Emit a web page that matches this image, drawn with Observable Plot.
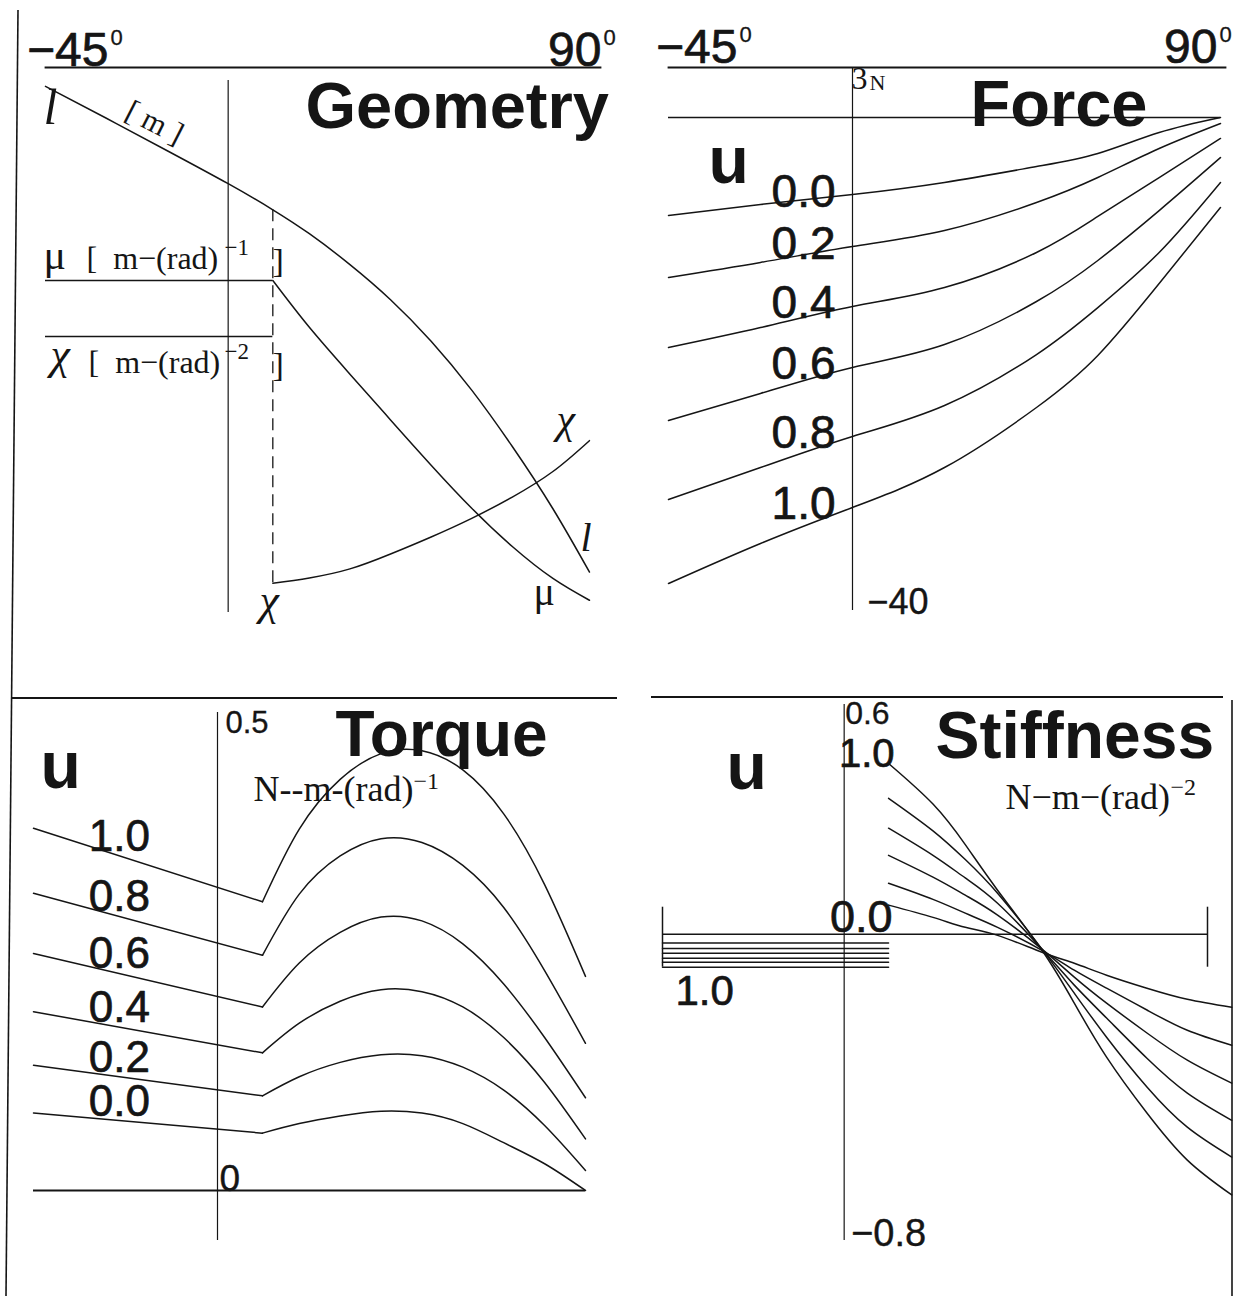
<!DOCTYPE html>
<html lang="en">
<head>
<meta charset="utf-8">
<title>Geometry, Force, Torque, Stiffness</title>
<script src="https://cdn.jsdelivr.net/npm/d3@7"></script>
<script src="https://cdn.jsdelivr.net/npm/@observablehq/plot@0.6"></script>
<style>
  html, body { margin: 0; padding: 0; background: #fff; }
  #sheet { position: relative; width: 1234px; height: 1296px; overflow: hidden; background: #fff; }
  #sheet svg { position: absolute; }
</style>
</head>
<body>
<div id="sheet"></div>
<script>
const INK = "#151515";
const LW = 1.5;
const SANS = "'Liberation Sans', Arial, Helvetica, sans-serif";
const SERIF = "'Liberation Serif', 'Times New Roman', serif";

// u levels shared by the force, torque and stiffness families
const uLevels = [0.0, 0.2, 0.4, 0.6, 0.8, 1.0];
// angle range of every panel, degrees
const angleEnds = [-45, 90];
// angle at which the cable starts to wrap
const contactAngle = 11;

// Geometry: length l and its derivatives mu, chi, each on its own unlabeled scale
const geoAngle = [-45, -30, -15, 0, 11, 20, 30, 40, 50, 60, 70, 80, 89];
const lengthL = [0.989, 0.929, 0.868, 0.806, 0.757, 0.712, 0.654, 0.588, 0.510, 0.418, 0.312, 0.195, 0.076];
const wrapAngle = [11, 20, 30, 40, 50, 60, 70, 80, 89];
const muWrap = [0.624, 0.536, 0.448, 0.362, 0.277, 0.196, 0.124, 0.064, 0.023];
const chiWrap = [0.055, 0.065, 0.082, 0.110, 0.142, 0.177, 0.217, 0.265, 0.323];
const muFree = 0.624;
const chiFree = 0.519;

// Force [N]
const forceAngle = [-45, -22.5, 0, 22.5, 45, 60, 75, 90];
const forceU00 = [-7.95, -7.06, -6.25, -5.27, -3.98, -2.92, -1.22, 0.0];
const forceU02 = [-12.98, -11.76, -10.47, -9.17, -6.90, -4.87, -2.52, -0.49];
const forceU04 = [-18.66, -17.04, -15.33, -13.79, -10.95, -8.03, -4.87, -1.70];
const forceU06 = [-24.58, -22.39, -20.28, -18.42, -14.93, -11.60, -7.55, -3.25];
const forceU08 = [-30.99, -28.40, -25.88, -23.37, -19.23, -15.42, -10.95, -5.27];
const forceU10 = [-37.81, -34.56, -31.64, -28.40, -23.53, -19.31, -13.47, -7.30];

// Torque [N-m-(rad)^-1]: straight before contact, curved after it
const torqueFreeAngle = [-45, 11];
const torqueFreeU00 = [0.081, 0.060];
const torqueFreeU02 = [0.131, 0.099];
const torqueFreeU04 = [0.187, 0.144];
const torqueFreeU06 = [0.248, 0.192];
const torqueFreeU08 = [0.311, 0.246];
const torqueFreeU10 = [0.379, 0.302];
const torqueWrapAngle = [11, 20, 30, 40, 50, 60, 70, 80, 90];
const torqueWrapU00 = [0.060, 0.070, 0.078, 0.083, 0.081, 0.070, 0.050, 0.028, 0.000];
const torqueWrapU02 = [0.099, 0.119, 0.134, 0.142, 0.141, 0.129, 0.105, 0.068, 0.021];
const torqueWrapU04 = [0.144, 0.175, 0.198, 0.210, 0.208, 0.192, 0.160, 0.113, 0.054];
const torqueWrapU06 = [0.192, 0.238, 0.270, 0.286, 0.282, 0.258, 0.216, 0.160, 0.097];
const torqueWrapU08 = [0.246, 0.310, 0.350, 0.368, 0.364, 0.340, 0.296, 0.230, 0.154];
const torqueWrapU10 = [0.302, 0.378, 0.430, 0.457, 0.460, 0.440, 0.394, 0.320, 0.224];

// Stiffness [N-m-(rad)^-2]: constant before contact, jumps at contact
const stiffFreeAngle = [-45, 11];
const stiffFree = [-0.023, -0.037, -0.050, -0.063, -0.073, -0.086];
const stiffWrapAngle = [11, 22, 30, 38, 49, 57, 65, 75, 85, 96];
const stiffWrapU00 = [0.076, 0.044, 0.018, -0.003, -0.047, -0.076, -0.107, -0.141, -0.170, -0.191];
const stiffWrapU02 = [0.133, 0.091, 0.055, 0.018, -0.042, -0.094, -0.141, -0.198, -0.251, -0.290];
const stiffWrapU04 = [0.206, 0.149, 0.102, 0.050, -0.039, -0.112, -0.180, -0.258, -0.329, -0.389];
const stiffWrapU06 = [0.277, 0.206, 0.147, 0.081, -0.039, -0.133, -0.219, -0.324, -0.415, -0.486];
const stiffWrapU08 = [0.355, 0.270, 0.195, 0.107, -0.039, -0.154, -0.269, -0.399, -0.504, -0.582];
const stiffWrapU10 = [0.446, 0.340, 0.234, 0.115, -0.042, -0.180, -0.321, -0.467, -0.590, -0.681];

// ---------- tables ----------
const rowsOf = (angles, series) =>
  uLevels.flatMap((u, i) => angles.map((angle, j) => ({u, angle, value: series[i][j]})));

const lengthRows = geoAngle.map((angle, i) => ({angle, value: lengthL[i]}));
const muRows = wrapAngle.map((angle, i) => ({angle, value: muWrap[i]}));
const chiRows = wrapAngle.map((angle, i) => ({angle, value: chiWrap[i]}));

const forceRows = rowsOf(forceAngle, [forceU00, forceU02, forceU04, forceU06, forceU08, forceU10]);
const torqueFree = [torqueFreeU00, torqueFreeU02, torqueFreeU04, torqueFreeU06, torqueFreeU08, torqueFreeU10];
const torqueFreeRows = rowsOf(torqueFreeAngle, torqueFree);
const torqueWrapRows = rowsOf(torqueWrapAngle, [torqueWrapU00, torqueWrapU02, torqueWrapU04, torqueWrapU06, torqueWrapU08, torqueWrapU10]);
const stiffFreeRows = rowsOf(stiffFreeAngle, stiffFree.map((v) => [v, v]));
const stiffWrapRows = rowsOf(stiffWrapAngle, [stiffWrapU00, stiffWrapU02, stiffWrapU04, stiffWrapU06, stiffWrapU08, stiffWrapU10]);

// ---------- helpers ----------
const sheet = document.getElementById("sheet");
const fmtSigned = (d) => (d < 0 ? "\u2212" + Math.abs(d) : String(d));
const uText = (d) => d.u.toFixed(1);
const txt = {fill: INK, fontFamily: SANS, lineAnchor: "bottom"};
// printed numerals are set a little heavier than the regular face
const heavy = {stroke: INK, strokeWidth: 0.7};
const greek = {fontFamily: SERIF, fontStyle: "italic"};

// text pinned to a pixel position inside a panel
const noteIn = (m) => (px, py, text, o = {}) =>
  Plot.text([text], {frameAnchor: "top-left", dx: px - m.left, dy: py - m.top, text: (d) => d,
    textAnchor: "start", ...txt, ...o});

function curves(rows, curve) {
  return Plot.line(rows, {x: "angle", y: "value", z: "u", curve, stroke: INK, strokeWidth: LW});
}

function angleLabels(leftDx, rightDx, dy) {
  const base = {x: (d) => d, frameAnchor: "top", ...txt, ...heavy};
  return [
    Plot.text([angleEnds[0]], {...base, text: fmtSigned, textAnchor: "end", dx: leftDx, dy, fontSize: 48}),
    Plot.text([angleEnds[0]], {...base, text: () => "0", textAnchor: "start", dx: leftDx + 2, dy: dy - 21, fontSize: 22, strokeWidth: 0.3}),
    Plot.text([angleEnds[1]], {...base, text: fmtSigned, textAnchor: "end", dx: rightDx, dy, fontSize: 48}),
    Plot.text([angleEnds[1]], {...base, text: () => "0", textAnchor: "start", dx: rightDx + 2, dy: dy - 21, fontSize: 22, strokeWidth: 0.3})
  ];
}

function panel(pos, opts) {
  const svg = Plot.plot({
    width: pos.width, height: pos.height,
    marginTop: pos.m.top, marginRight: pos.m.right, marginBottom: pos.m.bottom, marginLeft: pos.m.left,
    x: {domain: angleEnds, range: opts.xRange, axis: null},
    y: {domain: opts.yDomain, range: opts.yRange, axis: null},
    style: {background: "none", overflow: "visible"},
    marks: opts.marks
  });
  svg.style.left = pos.left + "px";
  svg.style.top = pos.top + "px";
  sheet.append(svg);
}

// ---------- Geometry ----------
{
  const m = {top: 67, left: 45, right: 17, bottom: 38};
  const note = noteIn(m);
  const lAtContact = lengthL[geoAngle.indexOf(contactAngle)];
  panel({left: 0, top: 0, width: 617, height: 650, m}, {
    xRange: [45, 593], yDomain: [0, 1], yRange: [612, 80],
    marks: [
      Plot.frame({anchor: "top", stroke: INK, strokeWidth: 1.8}),
      Plot.ruleX([0], {y1: 0, y2: 1, stroke: INK, strokeWidth: 1.2}),
      Plot.ruleY([muFree], {x1: angleEnds[0], x2: contactAngle, stroke: INK, strokeWidth: LW}),
      Plot.ruleY([chiFree], {x1: angleEnds[0], x2: contactAngle, stroke: INK, strokeWidth: LW}),
      Plot.ruleX([contactAngle], {y1: lAtContact, y2: chiWrap[0], stroke: INK, strokeWidth: 1.3, strokeDasharray: "12,7"}),
      Plot.line(lengthRows, {x: "angle", y: "value", curve: "natural", stroke: INK, strokeWidth: LW}),
      Plot.line(muRows, {x: "angle", y: "value", curve: "natural", stroke: INK, strokeWidth: LW}),
      Plot.line(chiRows, {x: "angle", y: "value", curve: "natural", stroke: INK, strokeWidth: LW}),
      ...angleLabels(63, 8, -2),
      note(305, 127, "Geometry", {fontSize: 65, fontWeight: "bold"}),
      note(43, 123, "l", {fontFamily: SERIF, fontStyle: "italic", fontSize: 50}),
      Plot.text(["[ m ]"], {frameAnchor: "top-left", dx: 154 - m.left, dy: 122 - m.top, text: (d) => d,
        rotate: 27, textAnchor: "middle", lineAnchor: "middle", fontFamily: SERIF, fontSize: 31, fill: INK}),
      note(43, 268, "\u03bc", {fontFamily: SERIF, fontSize: 42}),
      note(86, 268, "[  m\u2212(rad)", {fontFamily: SERIF, fontSize: 32}),
      note(224, 254, "\u22121", {fontFamily: SERIF, fontSize: 23}),
      note(272, 271, "]", {fontFamily: SERIF, fontSize: 34}),
      note(50, 368, "\u03c7", {...greek, fontSize: 44}),
      note(88, 372, "[  m\u2212(rad)", {fontFamily: SERIF, fontSize: 32}),
      note(224, 358, "\u22122", {fontFamily: SERIF, fontSize: 23}),
      note(272, 375, "]", {fontFamily: SERIF, fontSize: 34}),
      note(556, 432, "\u03c7", {...greek, fontSize: 42}),
      note(580, 550, "l", {fontFamily: SERIF, fontStyle: "italic", fontSize: 40}),
      note(533, 604, "\u03bc", {fontFamily: SERIF, fontSize: 40}),
      note(259, 614, "\u03c7", {...greek, fontSize: 44})
    ]
  });
}

// ---------- Force ----------
{
  const m = {top: 67, left: 51, right: 9, bottom: 40};
  const note = noteIn(m);
  panel({left: 617, top: 0, width: 617, height: 650, m}, {
    xRange: [51, 603], yDomain: [-40, 0], yRange: [610, 117],
    marks: [
      Plot.frame({anchor: "top", stroke: INK, strokeWidth: 1.8}),
      Plot.ruleY([0], {x1: angleEnds[0], x2: angleEnds[1], stroke: INK, strokeWidth: LW}),
      Plot.ruleX([0], {stroke: INK, strokeWidth: 1.2}),
      curves(forceRows, "natural"),
      ...angleLabels(69, -3, -5),
      note(353, 125, "Force", {fontSize: 65, fontWeight: "bold"}),
      note(91, 182, "u", {fontSize: 66, fontWeight: "bold"}),
      Plot.text([3], {x: () => 0, y: (d) => d, text: (d) => String(d), ...txt, fontFamily: SERIF, fontSize: 32, textAnchor: "start", dx: -1, dy: 8}),
      Plot.text([3], {x: () => 0, y: (d) => d, text: () => "N", ...txt, fontFamily: SERIF, fontSize: 22, textAnchor: "start", dx: 17, dy: 9}),
      Plot.text([-40], {x: () => 0, y: (d) => d, text: fmtSigned, ...txt, ...heavy, strokeWidth: 0.4, fontSize: 36, textAnchor: "start", dx: 15, dy: 3}),
      Plot.text(forceRows.filter((d) => d.angle === 0), {x: "angle", y: "value", text: uText, ...txt, ...heavy,
        fontSize: 46, textAnchor: "end", dx: -17, dy: 12})
    ]
  });
}

// ---------- Torque ----------
{
  const m = {top: 62, left: 33, right: 32, bottom: 56};
  const note = noteIn(m);
  const labelAngle = -24;
  const [a0, a1] = torqueFreeAngle;
  const labels = uLevels.map((u, i) => {
    const [v0, v1] = torqueFree[i];
    return {u, angle: labelAngle, value: v0 + (v1 - v0) * (labelAngle - a0) / (a1 - a0)};
  });
  panel({left: 0, top: 650, width: 617, height: 646, m}, {
    xRange: [33, 585], yDomain: [0, 0.5], yRange: [540, 62],
    marks: [
      Plot.ruleY([0], {stroke: INK, strokeWidth: 1.8}),
      Plot.ruleX([0], {stroke: INK, strokeWidth: 1.2}),
      curves(torqueFreeRows, "linear"),
      curves(torqueWrapRows, "natural"),
      Plot.text([0.5], {x: () => 0, y: (d) => d, text: (d) => String(d), ...txt, ...heavy, strokeWidth: 0.3, fontSize: 31, textAnchor: "start", dx: 8, dy: 20}),
      Plot.text([0], {x: () => 0, y: (d) => d, text: (d) => String(d), ...txt, ...heavy, strokeWidth: 0.4, fontSize: 37, textAnchor: "start", dx: 2, dy: 0}),
      note(40, 137, "u", {fontSize: 66, fontWeight: "bold"}),
      note(335, 105, "Torque", {fontSize: 64, fontWeight: "bold"}),
      note(253, 150, "N--m-(rad)", {fontFamily: SERIF, fontSize: 36}),
      note(413, 138, "\u22121", {fontFamily: SERIF, fontSize: 24}),
      Plot.text(labels, {x: "angle", y: "value", text: uText, ...txt, ...heavy, fontSize: 44, textAnchor: "middle", dy: -5})
    ]
  });
}

// ---------- Stiffness ----------
{
  const m = {top: 54, left: 45, right: 27, bottom: 56};
  const note = noteIn(m);
  const starts = stiffWrapRows.filter((d) => d.angle === contactAngle);
  const lowestFree = stiffFreeRows.filter((d) => d.angle === angleEnds[0] && d.u === 1);
  panel({left: 617, top: 650, width: 617, height: 646, m}, {
    xRange: [45, 590], yDomain: [-0.8, 0.6], yRange: [590, 54],
    marks: [
      Plot.ruleY([0], {x1: angleEnds[0], x2: angleEnds[1], stroke: INK, strokeWidth: LW}),
      Plot.ruleX(angleEnds, {y1: 0, y2: 0, insetTop: -27, insetBottom: -33, stroke: INK, strokeWidth: LW}),
      Plot.ruleX([0], {y1: -0.8, y2: 0.6, stroke: INK, strokeWidth: 1.2}),
      curves(stiffFreeRows, "linear"),
      curves(stiffWrapRows, "natural"),
      Plot.text([0.6], {x: () => 0, y: (d) => d, text: (d) => String(d), ...txt, ...heavy, strokeWidth: 0.3, fontSize: 32, textAnchor: "start", dx: 1, dy: 19}),
      Plot.text([-0.8], {x: () => 0, y: (d) => d, text: fmtSigned, ...txt, ...heavy, strokeWidth: 0.4, fontSize: 38, textAnchor: "start", dx: 7, dy: 5}),
      note(318, 107, "Stiffness", {fontSize: 66, fontWeight: "bold"}),
      note(109, 138, "u", {fontSize: 66, fontWeight: "bold"}),
      note(388, 158, "N\u2212m\u2212(rad)", {fontFamily: SERIF, fontSize: 36}),
      note(553, 144, "\u22122", {fontFamily: SERIF, fontSize: 24}),
      Plot.text(starts.filter((d) => d.u === 1), {x: "angle", y: "value", text: uText, ...txt, ...heavy, fontSize: 40, textAnchor: "end", dx: 6, dy: 4}),
      Plot.text(starts.filter((d) => d.u === 0), {x: "angle", y: "value", text: uText, ...txt, ...heavy, fontSize: 45, textAnchor: "end", dx: 4, dy: 27}),
      Plot.text(lowestFree, {x: "angle", y: "value", text: uText, ...txt, ...heavy, fontSize: 42, textAnchor: "start", dx: 13, dy: 38})
    ]
  });
}

// ---------- sheet frame: left edge, panel dividers, right edge ----------
{
  const deco = d3.select(sheet).append("svg")
    .attr("width", 1234).attr("height", 1296)
    .style("left", "0px").style("top", "0px").style("pointer-events", "none");
  const seg = (x1, y1, x2, y2, w) => deco.append("line")
    .attr("x1", x1).attr("y1", y1).attr("x2", x2).attr("y2", y2)
    .attr("stroke", INK).attr("stroke-width", w);
  seg(18, 10, 6, 1296, 1.6);
  seg(12, 698, 617, 698, 1.8);
  seg(651, 697, 1223, 697, 1.8);
  seg(1232, 700, 1232, 1296, 1.6);
}
</script>
</body>
</html>
